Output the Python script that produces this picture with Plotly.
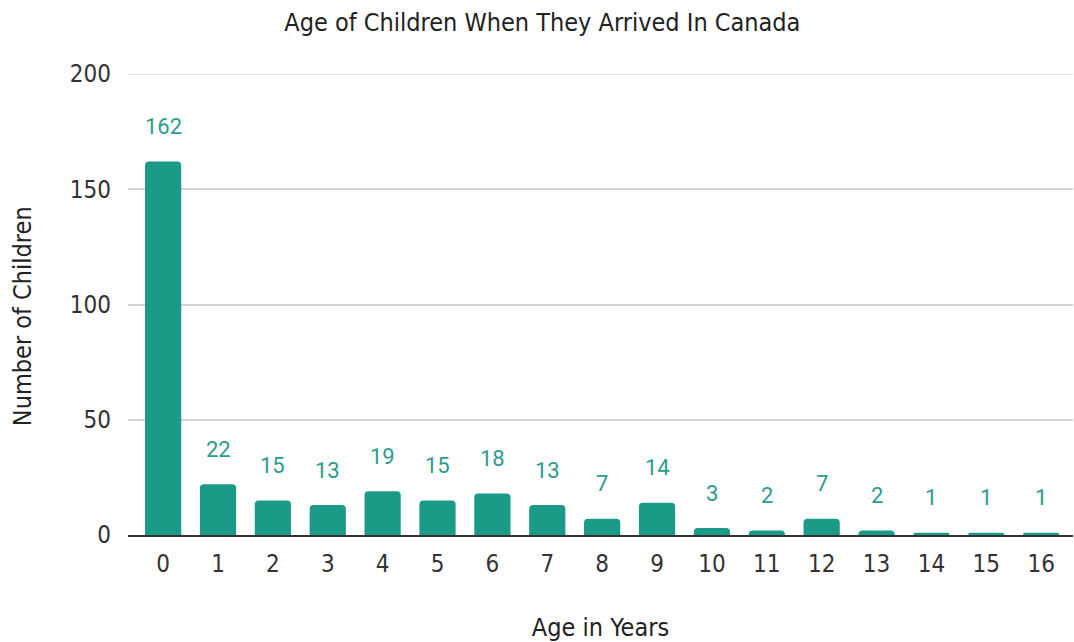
import plotly.graph_objects as go

ages = [str(i) for i in range(17)]
children = [162, 22, 15, 13, 19, 15, 18, 13, 7, 14, 3, 2, 7, 2, 1, 1, 1]
y_ticks = [0, 50, 100, 150, 200]

bar_color = "#1c9a88"
label_color = "#2a9d8c"
grid_color = "#d4d4d4"
text_font = "DejaVu Sans Condensed, DejaVu Sans, sans-serif"

fig = go.Figure()
fig.add_trace(go.Bar(
    x=list(range(len(ages))),
    y=children,
    marker=dict(color=bar_color, line=dict(width=0)),
    width=0.66,
    hoverinfo="x+y",
))

for i, v in enumerate(children):
    fig.add_annotation(
        x=i, y=v, text=str(v), showarrow=False,
        yanchor="middle", yshift=35,
        font=dict(family="Roboto, sans-serif", size=22, color=label_color),
    )

# y-axis title placed as an annotation, sitting slightly below the plot's centre
fig.add_annotation(
    xref="paper", yref="paper", x=-0.112, y=0.475,
    text="Number of Children", textangle=-90, showarrow=False,
    xanchor="center", yanchor="middle",
    font=dict(family=text_font, size=25, color="#222222"),
)

# top gridline sits on the edge of the plot area, draw it explicitly
fig.add_shape(type="line", xref="paper", yref="y", x0=0, x1=1,
              y0=y_ticks[-1], y1=y_ticks[-1],
              line=dict(color=grid_color, width=1.5), layer="below")

fig.update_layout(
    width=1074, height=642,
    margin=dict(l=128, r=1, t=74, b=107),
    paper_bgcolor="white", plot_bgcolor="white",
    barcornerradius=4,
    title=dict(
        text="Age of Children When They Arrived In Canada",
        x=0.505, xanchor="center", y=0.966, yanchor="middle",
        font=dict(family=text_font, size=25, color="#222222"),
    ),
    showlegend=False,
    xaxis=dict(
        tickmode="array",
        tickvals=list(range(len(ages))),
        ticktext=ages,
        range=[-0.64, 16.58],
        showgrid=False,
        showline=True, linecolor="#333333", linewidth=1.5,
        ticks="", ticklen=0,
        ticklabelstandoff=6,
        tickfont=dict(family=text_font, size=24, color="#333333"),
        title=dict(text="Age in Years", standoff=42,
                   font=dict(family=text_font, size=25, color="#222222")),
    ),
    yaxis=dict(
        range=[0, 200],
        tickmode="array",
        tickvals=y_ticks,
        showgrid=True, gridcolor=grid_color, gridwidth=1.5,
        zeroline=False,
        ticks="", ticklen=0,
        ticklabelstandoff=16,
        tickfont=dict(family=text_font, size=24, color="#333333"),
    ),
)

fig.write_html("out.html")
